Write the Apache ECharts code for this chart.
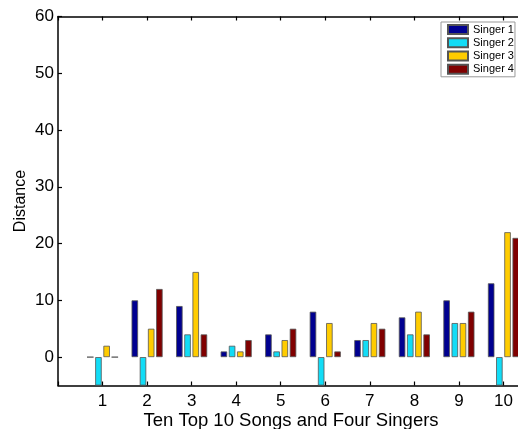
<!DOCTYPE html>
<html>
<head>
<meta charset="utf-8">
<script src="https://cdn.jsdelivr.net/npm/echarts@6/dist/echarts.min.js"></script>
<style>
html,body{margin:0;padding:0;background:#fff;}
#chart{width:518px;height:429px;}
</style>
</head>
<body>
<div id="chart"></div>
<script>
var songs = ['1','2','3','4','5','6','7','8','9','10'];
var singer1 = [0, 10, 9, 1, 4, 8, 3, 7, 10, 13];
var singer2 = [-5, -5, 4, 2, 1, -5, 3, 4, 6, -5];
var singer3 = [2, 5, 15, 1, 3, 6, 6, 8, 6, 22];
var singer4 = [0, 12, 4, 3, 5, 1, 5, 4, 8, 21];
var seriesNames = ['Singer 1','Singer 2','Singer 3','Singer 4'];
var seriesColors = ['#000090','#12DCF6','#FFCC00','#800000'];
var yTicks = [0, 10, 20, 30, 40, 50, 60];

var axisCats = [''].concat(songs).concat(['']);
function pad(a){ return [null].concat(a).concat([null]); }
var allData = [singer1, singer2, singer3, singer4];
var font = 'Liberation Sans, Arial, sans-serif';

var chart = echarts.init(document.getElementById('chart'));
chart.setOption({
  animation: false,
  backgroundColor: '#fff',
  grid: {left: 58, top: 16.5, right: -30, bottom: 43.5, outerBoundsMode: 'none', containLabel: false},
  legend: {
    orient: 'vertical', left: 441, top: 22,
    data: seriesNames, icon: 'rect',
    itemWidth: 20, itemHeight: 9, itemGap: 0,
    padding: [1, 1, 1, 6],
    borderColor: '#999', borderWidth: 1, backgroundColor: '#fff',
    textStyle: {fontFamily: font, fontSize: 11, color: '#000', lineHeight: 13.2}
  },
  xAxis: [{
    type: 'category', data: axisCats, boundaryGap: false, position: 'bottom',
    axisLine: {onZero: false, lineStyle: {color: '#000', width: 1.5}},
    axisTick: {inside: true, length: 4, lineStyle: {color: '#000', width: 1.2}},
    axisLabel: {interval: 0, color: '#000', fontFamily: font, fontSize: 17, margin: 7},
    splitLine: {show: false},
    name: 'Ten Top 10 Songs and Four Singers', nameLocation: 'middle', nameGap: 26,
    nameMoveOverlap: false,
    nameTextStyle: {color: '#000', fontFamily: font, fontSize: 18.5, padding: [0, 24, 0, 0]}
  }, {
    type: 'category', data: axisCats, boundaryGap: false, position: 'top',
    axisLine: {onZero: false, lineStyle: {color: '#000', width: 1.5}},
    axisTick: {inside: true, length: 4, lineStyle: {color: '#000', width: 1.2}},
    axisLabel: {show: false}, splitLine: {show: false}
  }],
  yAxis: {
    type: 'value', min: -5, max: 60,
    axisLine: {show: true, onZero: false, lineStyle: {color: '#000', width: 1.5}},
    axisTick: {show: true, inside: true, length: 4, customValues: yTicks, lineStyle: {color: '#000', width: 1.2}},
    axisLabel: {customValues: yTicks, color: '#000', fontFamily: font, fontSize: 17, margin: 4},
    splitLine: {show: false},
    name: 'Distance', nameLocation: 'middle', nameRotate: 90, nameGap: 29,
    nameMoveOverlap: false,
    nameTextStyle: {color: '#000', fontFamily: font, fontSize: 16}
  },
  series: seriesNames.map(function(n, i){
    return {
      name: n, type: 'bar', data: pad(allData[i]),
      barWidth: 6.5, barGap: '26%',
      itemStyle: {color: seriesColors[i], borderColor: '#555', borderWidth: 0.8}
    };
  })
});
</script>
</body>
</html>
